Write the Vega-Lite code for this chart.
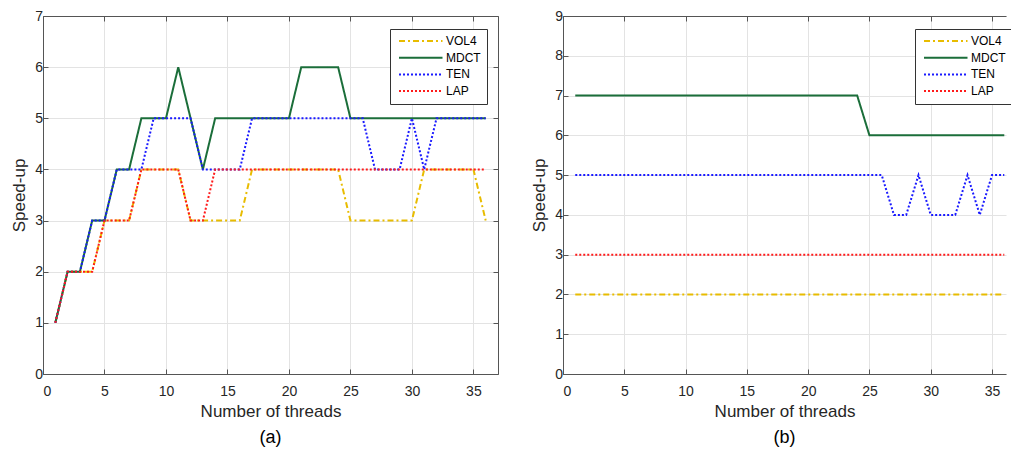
{
  "$schema": "https://vega.github.io/schema/vega-lite/v6.json",
  "padding": {"left": 10, "top": 9, "right": 0, "bottom": 0},
  "spacing": 31,
  "background": "white",
  "config": {
    "font": "Liberation Sans",
    "view": {"stroke": null},
    "axis": {
      "labelFont": "Liberation Sans", "titleFont": "Liberation Sans",
      "labelFontSize": 14, "titleFontSize": 17, "titleFontWeight": "normal",
      "labelColor": "#262626", "titleColor": "#262626",
      "domainColor": "#555555", "tickColor": "#555555", "domainWidth": 1,
      "gridColor": "#e3e3e3", "gridWidth": 1, "tickSize": -5
    },
    "axisX": {"labelPadding": 15, "titlePadding": 5},
    "axisY": {"labelPadding": 5.5, "titlePadding": 6.5},
    "legend": {
      "orient": "none", "strokeColor": "#333333", "fillColor": "white", "padding": 6,
      "symbolType": "M-0.6,0H8.1", "symbolSize": 100, "symbolStrokeWidth": 2,
      "labelFont": "Liberation Sans", "labelFontSize": 12, "labelColor": "#000000",
      "rowPadding": 4.7, "labelOffset": 38, "cornerRadius": 0
    },
    "title": {"font": "Liberation Sans", "fontSize": 18, "fontWeight": "normal", "color": "#000000"}
  },
  "data": {"values": [
    {"p":"a","x":1,"VOL4":1,"MDCT":1,"TEN":1,"LAP":1},
    {"p":"a","x":2,"VOL4":2,"MDCT":2,"TEN":2,"LAP":2},
    {"p":"a","x":3,"VOL4":2,"MDCT":2,"TEN":2,"LAP":2},
    {"p":"a","x":4,"VOL4":2,"MDCT":3,"TEN":3,"LAP":2},
    {"p":"a","x":5,"VOL4":3,"MDCT":3,"TEN":3,"LAP":3},
    {"p":"a","x":6,"VOL4":3,"MDCT":4,"TEN":4,"LAP":3},
    {"p":"a","x":7,"VOL4":3,"MDCT":4,"TEN":4,"LAP":3},
    {"p":"a","x":8,"VOL4":4,"MDCT":5,"TEN":4,"LAP":4},
    {"p":"a","x":9,"VOL4":4,"MDCT":5,"TEN":5,"LAP":4},
    {"p":"a","x":10,"VOL4":4,"MDCT":5,"TEN":5,"LAP":4},
    {"p":"a","x":11,"VOL4":4,"MDCT":6,"TEN":5,"LAP":4},
    {"p":"a","x":12,"VOL4":3,"MDCT":5,"TEN":5,"LAP":3},
    {"p":"a","x":13,"VOL4":3,"MDCT":4,"TEN":4,"LAP":3},
    {"p":"a","x":14,"VOL4":3,"MDCT":5,"TEN":4,"LAP":4},
    {"p":"a","x":15,"VOL4":3,"MDCT":5,"TEN":4,"LAP":4},
    {"p":"a","x":16,"VOL4":3,"MDCT":5,"TEN":4,"LAP":4},
    {"p":"a","x":17,"VOL4":4,"MDCT":5,"TEN":5,"LAP":4},
    {"p":"a","x":18,"VOL4":4,"MDCT":5,"TEN":5,"LAP":4},
    {"p":"a","x":19,"VOL4":4,"MDCT":5,"TEN":5,"LAP":4},
    {"p":"a","x":20,"VOL4":4,"MDCT":5,"TEN":5,"LAP":4},
    {"p":"a","x":21,"VOL4":4,"MDCT":6,"TEN":5,"LAP":4},
    {"p":"a","x":22,"VOL4":4,"MDCT":6,"TEN":5,"LAP":4},
    {"p":"a","x":23,"VOL4":4,"MDCT":6,"TEN":5,"LAP":4},
    {"p":"a","x":24,"VOL4":4,"MDCT":6,"TEN":5,"LAP":4},
    {"p":"a","x":25,"VOL4":3,"MDCT":5,"TEN":5,"LAP":4},
    {"p":"a","x":26,"VOL4":3,"MDCT":5,"TEN":5,"LAP":4},
    {"p":"a","x":27,"VOL4":3,"MDCT":5,"TEN":4,"LAP":4},
    {"p":"a","x":28,"VOL4":3,"MDCT":5,"TEN":4,"LAP":4},
    {"p":"a","x":29,"VOL4":3,"MDCT":5,"TEN":4,"LAP":4},
    {"p":"a","x":30,"VOL4":3,"MDCT":5,"TEN":5,"LAP":4},
    {"p":"a","x":31,"VOL4":4,"MDCT":5,"TEN":4,"LAP":4},
    {"p":"a","x":32,"VOL4":4,"MDCT":5,"TEN":5,"LAP":4},
    {"p":"a","x":33,"VOL4":4,"MDCT":5,"TEN":5,"LAP":4},
    {"p":"a","x":34,"VOL4":4,"MDCT":5,"TEN":5,"LAP":4},
    {"p":"a","x":35,"VOL4":4,"MDCT":5,"TEN":5,"LAP":4},
    {"p":"a","x":36,"VOL4":3,"MDCT":5,"TEN":5,"LAP":4},
    {"p":"b","x":1,"VOL4":2,"MDCT":7,"TEN":5,"LAP":3},
    {"p":"b","x":2,"VOL4":2,"MDCT":7,"TEN":5,"LAP":3},
    {"p":"b","x":3,"VOL4":2,"MDCT":7,"TEN":5,"LAP":3},
    {"p":"b","x":4,"VOL4":2,"MDCT":7,"TEN":5,"LAP":3},
    {"p":"b","x":5,"VOL4":2,"MDCT":7,"TEN":5,"LAP":3},
    {"p":"b","x":6,"VOL4":2,"MDCT":7,"TEN":5,"LAP":3},
    {"p":"b","x":7,"VOL4":2,"MDCT":7,"TEN":5,"LAP":3},
    {"p":"b","x":8,"VOL4":2,"MDCT":7,"TEN":5,"LAP":3},
    {"p":"b","x":9,"VOL4":2,"MDCT":7,"TEN":5,"LAP":3},
    {"p":"b","x":10,"VOL4":2,"MDCT":7,"TEN":5,"LAP":3},
    {"p":"b","x":11,"VOL4":2,"MDCT":7,"TEN":5,"LAP":3},
    {"p":"b","x":12,"VOL4":2,"MDCT":7,"TEN":5,"LAP":3},
    {"p":"b","x":13,"VOL4":2,"MDCT":7,"TEN":5,"LAP":3},
    {"p":"b","x":14,"VOL4":2,"MDCT":7,"TEN":5,"LAP":3},
    {"p":"b","x":15,"VOL4":2,"MDCT":7,"TEN":5,"LAP":3},
    {"p":"b","x":16,"VOL4":2,"MDCT":7,"TEN":5,"LAP":3},
    {"p":"b","x":17,"VOL4":2,"MDCT":7,"TEN":5,"LAP":3},
    {"p":"b","x":18,"VOL4":2,"MDCT":7,"TEN":5,"LAP":3},
    {"p":"b","x":19,"VOL4":2,"MDCT":7,"TEN":5,"LAP":3},
    {"p":"b","x":20,"VOL4":2,"MDCT":7,"TEN":5,"LAP":3},
    {"p":"b","x":21,"VOL4":2,"MDCT":7,"TEN":5,"LAP":3},
    {"p":"b","x":22,"VOL4":2,"MDCT":7,"TEN":5,"LAP":3},
    {"p":"b","x":23,"VOL4":2,"MDCT":7,"TEN":5,"LAP":3},
    {"p":"b","x":24,"VOL4":2,"MDCT":7,"TEN":5,"LAP":3},
    {"p":"b","x":25,"VOL4":2,"MDCT":6,"TEN":5,"LAP":3},
    {"p":"b","x":26,"VOL4":2,"MDCT":6,"TEN":5,"LAP":3},
    {"p":"b","x":27,"VOL4":2,"MDCT":6,"TEN":4,"LAP":3},
    {"p":"b","x":28,"VOL4":2,"MDCT":6,"TEN":4,"LAP":3},
    {"p":"b","x":29,"VOL4":2,"MDCT":6,"TEN":5,"LAP":3},
    {"p":"b","x":30,"VOL4":2,"MDCT":6,"TEN":4,"LAP":3},
    {"p":"b","x":31,"VOL4":2,"MDCT":6,"TEN":4,"LAP":3},
    {"p":"b","x":32,"VOL4":2,"MDCT":6,"TEN":4,"LAP":3},
    {"p":"b","x":33,"VOL4":2,"MDCT":6,"TEN":5,"LAP":3},
    {"p":"b","x":34,"VOL4":2,"MDCT":6,"TEN":4,"LAP":3},
    {"p":"b","x":35,"VOL4":2,"MDCT":6,"TEN":5,"LAP":3},
    {"p":"b","x":36,"VOL4":2,"MDCT":6,"TEN":5,"LAP":3}
  ]},
  "hconcat": [
    {
      "width": 455, "height": 358,
      "title": {"text": "(a)", "orient": "bottom", "frame": "group", "offset": 10},
      "transform": [
        {"filter": "datum.p == 'a'"},
        {"fold": ["VOL4", "MDCT", "TEN", "LAP"], "as": ["s", "v"]}
      ],
      "layer": [
        {
          "mark": {"type": "line", "strokeWidth": 2, "clip": true},
          "encoding": {
            "x": {"field": "x", "type": "quantitative", "scale": {"domain": [0, 37], "nice": false, "zero": false},
                  "axis": {"values": [0,5,10,15,20,25,30,35], "title": "Number of threads", "grid": true}},
            "y": {"field": "v", "type": "quantitative", "scale": {"domain": [0, 7], "nice": false},
                  "axis": {"values": [0,1,2,3,4,5,6,7], "title": "Speed-up", "grid": true}},
            "color": {"field": "s", "type": "nominal",
                      "scale": {"domain": ["VOL4","MDCT","TEN","LAP"], "range": ["#E8BC00","#1B6E3A","#1A1AFF","#FF1A1A"]},
                      "legend": {"title": null, "legendX": 347, "legendY": 13}},
            "strokeDash": {"field": "s", "type": "nominal",
                      "scale": {"domain": ["VOL4","MDCT","TEN","LAP"], "range": [[6,3,2,3],[1,0],[2,2],[2,2]]},
                      "legend": {"title": null, "legendX": 347, "legendY": 13}}
          }
        },
        {
          "mark": {"type": "line", "opacity": 0},
          "encoding": {
            "x": {"field": "x", "type": "quantitative", "scale": {"domain": [0, 37], "nice": false, "zero": false},
                  "axis": {"orient": "top", "values": [0,5,10,15,20,25,30,35], "labels": false, "title": null, "grid": false}},
            "y": {"field": "v", "type": "quantitative", "scale": {"domain": [0, 7], "nice": false},
                  "axis": {"orient": "right", "values": [0,1,2,3,4,5,6,7], "labels": false, "title": null, "grid": false}},
            "detail": {"field": "s"}
          }
        }
      ],
      "resolve": {"axis": {"x": "independent", "y": "independent"}}
    },
    {
      "width": 443, "height": 358,
      "title": {"text": "(b)", "orient": "bottom", "frame": "group", "offset": 10},
      "transform": [
        {"filter": "datum.p == 'b'"},
        {"fold": ["VOL4", "MDCT", "TEN", "LAP"], "as": ["s", "v"]}
      ],
      "layer": [
        {
          "mark": {"type": "line", "strokeWidth": 2, "clip": true},
          "encoding": {
            "x": {"field": "x", "type": "quantitative", "scale": {"domain": [0, 36.14], "nice": false, "zero": false},
                  "axis": {"values": [0,5,10,15,20,25,30,35], "title": "Number of threads", "grid": true}},
            "y": {"field": "v", "type": "quantitative", "scale": {"domain": [0, 9], "nice": false},
                  "axis": {"values": [0,1,2,3,4,5,6,7,8,9], "title": "Speed-up", "grid": true}},
            "color": {"field": "s", "type": "nominal",
                      "scale": {"domain": ["VOL4","MDCT","TEN","LAP"], "range": ["#E8BC00","#1B6E3A","#1A1AFF","#FF1A1A"]},
                      "legend": {"title": null, "legendX": 352, "legendY": 13}},
            "strokeDash": {"field": "s", "type": "nominal",
                      "scale": {"domain": ["VOL4","MDCT","TEN","LAP"], "range": [[6,3,2,3],[1,0],[2,2],[2,2]]},
                      "legend": {"title": null, "legendX": 352, "legendY": 13}}
          }
        },
        {
          "mark": {"type": "line", "opacity": 0},
          "encoding": {
            "x": {"field": "x", "type": "quantitative", "scale": {"domain": [0, 36.14], "nice": false, "zero": false},
                  "axis": {"orient": "top", "values": [0,5,10,15,20,25,30,35], "labels": false, "title": null, "grid": false}},
            "y": {"field": "v", "type": "quantitative", "scale": {"domain": [0, 9], "nice": false},
                  "axis": {"values": [0,1,2,3,4,5,6,7,8,9], "title": "Speed-up", "grid": true}},
            "detail": {"field": "s"}
          }
        }
      ],
      "resolve": {"axis": {"x": "independent"}}
    }
  ],
  "resolve": {"legend": {"color": "independent", "strokeDash": "independent"}}
}
